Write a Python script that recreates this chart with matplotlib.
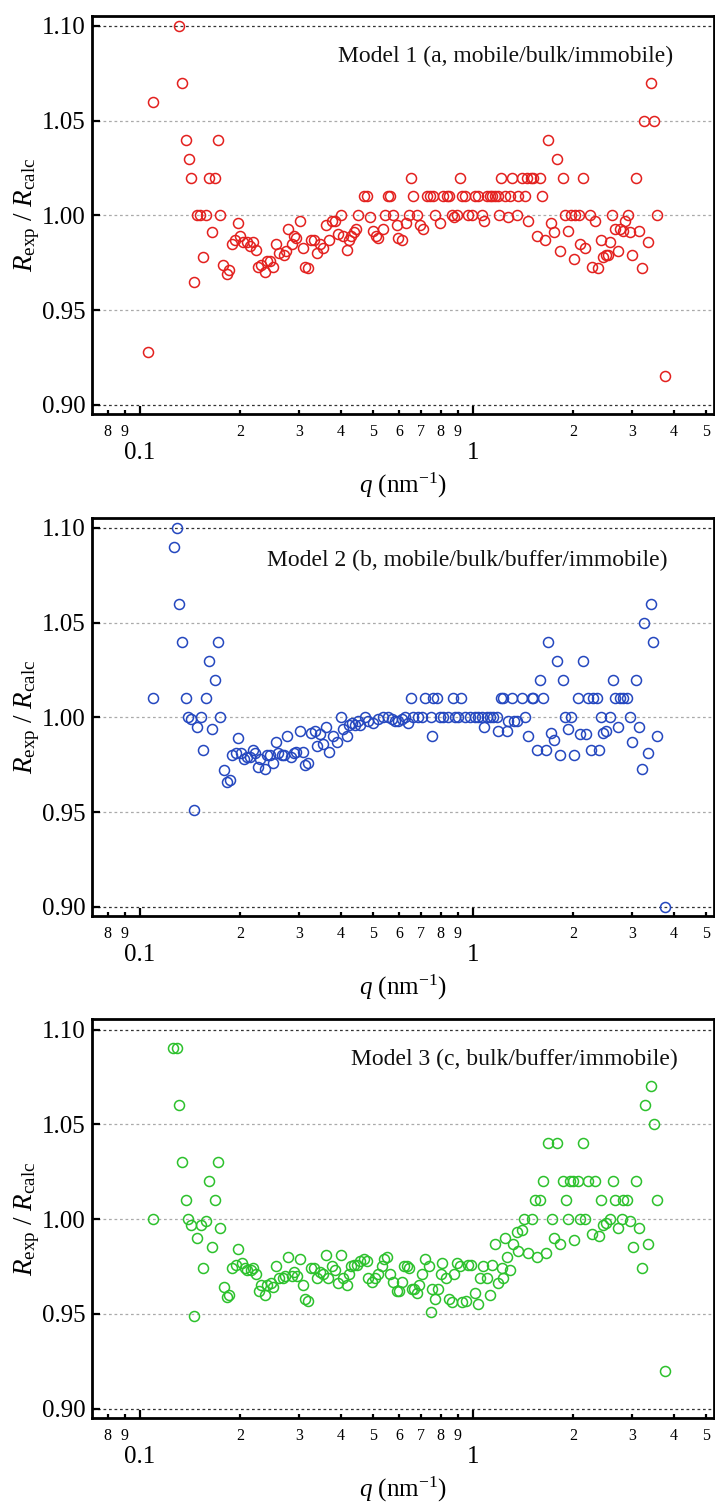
import matplotlib
matplotlib.use("Agg")
import matplotlib.pyplot as plt
from matplotlib.ticker import FixedLocator, FixedFormatter, NullLocator

plt.rcParams['font.family'] = ['Liberation Serif', 'DejaVu Serif']
plt.rcParams['mathtext.fontset'] = 'custom'
plt.rcParams['mathtext.rm'] = 'Liberation Serif'
plt.rcParams['mathtext.it'] = 'Liberation Serif:italic'

# ---------------- data ----------------
q1 = [0.1054, 0.1096, 0.1312, 0.1341, 0.1372, 0.1400, 0.1426, 0.1456, 0.148, 0.151,
      0.155, 0.158, 0.161, 0.164, 0.168, 0.171, 0.174, 0.178, 0.182, 0.185,
      0.189, 0.193, 0.197, 0.200, 0.204, 0.209, 0.214, 0.219, 0.223, 0.226,
      0.231, 0.237, 0.240, 0.246, 0.251, 0.256, 0.262, 0.270, 0.275, 0.279,
      0.285, 0.290, 0.295, 0.302, 0.308, 0.312, 0.320, 0.327, 0.333, 0.339,
      0.347, 0.354, 0.362, 0.370, 0.376, 0.385, 0.394, 0.400, 0.407, 0.417,
      0.424, 0.431, 0.438, 0.446, 0.452, 0.469, 0.480, 0.491, 0.502, 0.510,
      0.520, 0.535, 0.544, 0.557, 0.563, 0.576, 0.590, 0.597, 0.611, 0.628,
      0.640, 0.652, 0.662, 0.677, 0.693, 0.706, 0.726, 0.743, 0.760, 0.769,
      0.796, 0.814, 0.834, 0.847, 0.863, 0.879, 0.893, 0.914, 0.925, 0.946,
      0.968, 0.991, 1.014, 1.037, 1.062, 1.081, 1.099, 1.125, 1.143, 1.164,
      1.186, 1.197, 1.213, 1.248, 1.270, 1.291, 1.312, 1.352, 1.368, 1.400,
      1.432, 1.449, 1.459, 1.493, 1.517, 1.553, 1.589, 1.615, 1.645, 1.684,
      1.715, 1.755, 1.784, 1.821, 1.864, 1.889, 1.933, 1.969, 2.015, 2.025,
      2.081, 2.101, 2.144, 2.169, 2.246, 2.272, 2.325, 2.379, 2.423, 2.463,
      2.503, 2.537, 2.578, 2.620, 2.669, 2.730, 2.762, 2.827, 2.860, 2.913,
      2.961, 3.010, 3.087, 3.151, 3.210, 3.270, 3.344, 3.414, 3.494, 3.560,
      3.770]
r1 = [0.928, 1.060, 1.100, 1.070, 1.040, 1.030, 1.020, 0.965, 1.000, 1.000,
      0.978, 1.000, 1.020, 0.991, 1.020, 1.040, 1.000, 0.974, 0.969, 0.971,
      0.985, 0.987, 0.996, 0.989, 0.986, 0.986, 0.984, 0.986, 0.982, 0.973,
      0.974, 0.970, 0.976, 0.976, 0.973, 0.985, 0.980, 0.979, 0.981, 0.993,
      0.985, 0.989, 0.988, 0.997, 0.983, 0.973, 0.972, 0.987, 0.987, 0.980,
      0.985, 0.983, 0.995, 0.987, 0.997, 0.997, 0.990, 1.000, 0.989, 0.982,
      0.987, 0.989, 0.991, 0.993, 1.000, 1.010, 1.010, 0.999, 0.992, 0.989,
      0.988, 0.993, 1.000, 1.010, 1.010, 1.000, 0.995, 0.988, 0.987, 0.996,
      1.000, 1.020, 1.010, 1.000, 0.995, 0.993, 1.010, 1.010, 1.010, 1.000,
      0.996, 1.010, 1.010, 1.010, 1.000, 0.999, 1.000, 1.020, 1.010, 1.010,
      1.000, 1.000, 1.010, 1.010, 1.000, 0.997, 1.010, 1.010, 1.010, 1.010,
      1.010, 1.000, 1.020, 1.010, 0.999, 1.010, 1.020, 1.000, 1.010, 1.020,
      1.010, 1.020, 0.997, 1.020, 1.020, 0.989, 1.020, 1.010, 0.987, 1.040,
      0.996, 0.991, 1.030, 0.981, 1.020, 1.000, 0.992, 1.000, 0.977, 1.000,
      1.000, 0.985, 1.020, 0.983, 1.000, 0.973, 0.997, 0.972, 0.987, 0.978,
      0.979, 0.979, 0.986, 1.000, 0.993, 0.981, 0.993, 0.992, 0.997, 1.000,
      0.991, 0.979, 1.020, 0.992, 0.972, 1.050, 0.986, 1.070, 1.050, 1.000,
      0.915]

q2 = [0.1096, 0.1265, 0.1289, 0.1313, 0.1341, 0.1372, 0.1391, 0.1419, 0.1456, 0.1486,
      0.1524, 0.155, 0.158, 0.161, 0.164, 0.168, 0.171, 0.174, 0.179, 0.182,
      0.186, 0.189, 0.194, 0.197, 0.201, 0.205, 0.210, 0.214, 0.218, 0.222,
      0.226, 0.230, 0.237, 0.240, 0.246, 0.251, 0.256, 0.260, 0.266, 0.271,
      0.277, 0.284, 0.289, 0.295, 0.302, 0.308, 0.313, 0.320, 0.327, 0.335,
      0.339, 0.347, 0.354, 0.362, 0.370, 0.379, 0.391, 0.400, 0.406, 0.417,
      0.424, 0.434, 0.442, 0.452, 0.458, 0.474, 0.485, 0.502, 0.520, 0.538,
      0.557, 0.570, 0.583, 0.597, 0.611, 0.625, 0.637, 0.652, 0.662, 0.685,
      0.701, 0.718, 0.748, 0.751, 0.760, 0.778, 0.796, 0.814, 0.843, 0.873,
      0.883, 0.904, 0.920, 0.946, 0.979, 1.014, 1.037, 1.062, 1.081, 1.099,
      1.125, 1.151, 1.178, 1.191, 1.213, 1.233, 1.262, 1.276, 1.306, 1.330,
      1.352, 1.400, 1.432, 1.466, 1.500, 1.517, 1.553, 1.589, 1.626, 1.652,
      1.684, 1.715, 1.750, 1.784, 1.825, 1.864, 1.889, 1.933, 1.969, 2.015,
      2.061, 2.096, 2.144, 2.178, 2.220, 2.259, 2.296, 2.350, 2.388, 2.423,
      2.463, 2.503, 2.578, 2.626, 2.669, 2.730, 2.762, 2.827, 2.891, 2.961,
      3.010, 3.087, 3.151, 3.210, 3.270, 3.344, 3.414, 3.475, 3.560, 3.770]
r2 = [1.010, 1.090, 1.100, 1.060, 1.040, 1.010, 1.000, 0.999, 0.951, 0.995,
      1.000, 0.983, 1.010, 1.030, 0.994, 1.020, 1.040, 1.000, 0.972, 0.966,
      0.967, 0.980, 0.981, 0.989, 0.981, 0.978, 0.979, 0.979, 0.983, 0.981,
      0.974, 0.978, 0.973, 0.980, 0.980, 0.976, 0.987, 0.981, 0.980, 0.980,
      0.990, 0.979, 0.981, 0.982, 0.993, 0.982, 0.975, 0.976, 0.992, 0.993,
      0.985, 0.991, 0.986, 0.995, 0.982, 0.990, 0.987, 1.000, 0.994, 0.990,
      0.996, 0.997, 0.996, 0.998, 0.996, 1.000, 0.998, 0.997, 0.999, 1.000,
      1.000, 0.999, 0.998, 0.998, 0.999, 1.000, 0.997, 1.010, 1.000, 1.000,
      1.000, 1.010, 1.000, 0.990, 1.010, 1.010, 1.000, 1.000, 1.000, 1.010,
      1.000, 1.000, 1.010, 1.000, 1.000, 1.000, 1.000, 1.000, 0.995, 1.000,
      1.000, 1.000, 1.000, 0.993, 1.010, 1.010, 0.993, 0.998, 1.010, 0.998,
      0.998, 1.010, 1.000, 0.990, 1.010, 1.010, 0.983, 1.020, 1.010, 0.983,
      1.040, 0.992, 0.988, 1.030, 0.980, 1.020, 1.000, 0.994, 1.000, 0.980,
      1.010, 0.991, 1.030, 0.991, 1.010, 0.983, 1.010, 1.010, 0.983, 1.000,
      0.992, 0.993, 1.000, 1.020, 1.010, 0.995, 1.010, 1.010, 1.010, 1.000,
      0.987, 1.020, 0.995, 0.973, 1.050, 0.981, 1.060, 1.040, 0.990, 0.900]

q3 = [0.1096, 0.1254, 0.1289, 0.1313, 0.1341, 0.1372, 0.1397, 0.1423, 0.1456, 0.1486,
      0.152, 0.155, 0.158, 0.161, 0.164, 0.168, 0.171, 0.174, 0.179, 0.183,
      0.185, 0.189, 0.194, 0.197, 0.202, 0.206, 0.210, 0.215, 0.219, 0.223,
      0.227, 0.231, 0.237, 0.240, 0.247, 0.251, 0.256, 0.262, 0.268, 0.273,
      0.278, 0.286, 0.290, 0.297, 0.302, 0.308, 0.313, 0.320, 0.326, 0.333,
      0.339, 0.347, 0.354, 0.362, 0.368, 0.377, 0.384, 0.392, 0.400, 0.407,
      0.417, 0.424, 0.431, 0.440, 0.449, 0.458, 0.469, 0.480, 0.485, 0.496,
      0.508, 0.520, 0.532, 0.542, 0.551, 0.563, 0.576, 0.590, 0.601, 0.611,
      0.622, 0.632, 0.643, 0.655, 0.667, 0.677, 0.690, 0.701, 0.718, 0.735,
      0.748, 0.755, 0.766, 0.783, 0.802, 0.809, 0.828, 0.847, 0.863, 0.879,
      0.895, 0.914, 0.929, 0.951, 0.968, 0.986, 1.014, 1.033, 1.052, 1.074,
      1.099, 1.125, 1.143, 1.164, 1.191, 1.219, 1.233, 1.248, 1.262, 1.291,
      1.321, 1.352, 1.368, 1.400, 1.426, 1.466, 1.507, 1.535, 1.553, 1.589,
      1.618, 1.652, 1.684, 1.722, 1.750, 1.784, 1.825, 1.864, 1.897, 1.933,
      1.955, 2.000, 2.015, 2.061, 2.096, 2.144, 2.169, 2.220, 2.272, 2.325,
      2.388, 2.423, 2.463, 2.503, 2.578, 2.626, 2.669, 2.730, 2.793, 2.827,
      2.891, 2.961, 3.014, 3.087, 3.151, 3.210, 3.282, 3.344, 3.414, 3.494,
      3.560, 3.770]
r3 = [1.000, 1.090, 1.090, 1.060, 1.030, 1.010, 1.000, 0.997, 0.949, 0.990,
      0.997, 0.974, 0.999, 1.020, 0.985, 1.010, 1.030, 0.995, 0.964, 0.959,
      0.960, 0.974, 0.976, 0.984, 0.977, 0.974, 0.973, 0.973, 0.974, 0.971,
      0.962, 0.965, 0.960, 0.965, 0.966, 0.964, 0.975, 0.969, 0.969, 0.970,
      0.980, 0.970, 0.972, 0.970, 0.979, 0.965, 0.958, 0.957, 0.974, 0.974,
      0.969, 0.972, 0.971, 0.981, 0.969, 0.975, 0.973, 0.966, 0.981, 0.969,
      0.965, 0.971, 0.975, 0.976, 0.976, 0.978, 0.979, 0.978, 0.969, 0.967,
      0.969, 0.971, 0.975, 0.979, 0.980, 0.971, 0.967, 0.962, 0.962, 0.967,
      0.975, 0.975, 0.974, 0.963, 0.963, 0.961, 0.965, 0.971, 0.979, 0.975,
      0.951, 0.963, 0.958, 0.963, 0.971, 0.977, 0.969, 0.958, 0.956, 0.971,
      0.977, 0.975, 0.956, 0.957, 0.976, 0.976, 0.961, 0.955, 0.969, 0.975,
      0.969, 0.960, 0.976, 0.987, 0.966, 0.974, 0.969, 0.990, 0.980, 0.973,
      0.987, 0.993, 0.983, 0.994, 1.000, 0.982, 1.000, 1.010, 0.980, 1.010,
      1.020, 0.982, 1.040, 1.000, 0.990, 1.040, 0.987, 1.020, 1.010, 1.000,
      1.020, 1.020, 0.989, 1.020, 1.000, 1.040, 1.000, 1.020, 0.992, 1.020,
      0.991, 1.010, 0.997, 0.998, 1.000, 1.020, 1.010, 0.995, 1.000, 1.010,
      1.010, 0.999, 0.985, 1.020, 0.995, 0.974, 1.060, 0.987, 1.070, 1.050,
      1.010, 0.920]

labels = ["Model 1 (a, mobile/bulk/immobile)",
          "Model 2 (b, mobile/bulk/buffer/immobile)",
          "Model 3 (c, bulk/buffer/immobile)"]
colors = ["#e3201e", "#2447bf", "#2cc12c"]

yticks = [0.90, 0.95, 1.00, 1.05, 1.10]
ytick_labels = ["0.90", "0.95", "1.00", "1.05", "1.10"]
x_major = [0.1, 1.0]
x_major_labels = ["0.1", "1"]
x_minor = [0.08, 0.09, 0.2, 0.3, 0.4, 0.5, 0.6, 0.7, 0.8, 0.9, 2, 3, 4, 5]
x_minor_labels = ["8", "9", "2", "3", "4", "5", "6", "7", "8", "9", "2", "3", "4", "5"]

# ---------------- figure ----------------
W, H = 715, 1502
fig = plt.figure(figsize=(W / 100, H / 100), dpi=100)

left = 91.7 / W
width = (714.0 - 91.7) / W
tops = [15.7, 517.7, 1019.3]
ax_h = 398.5

series = [(q1, r1), (q2, r2), (q3, r3)]
text_x = [0.934, 0.926, 0.942]
text_y = [0.897, 0.893, 0.900]

for i, (q, r) in enumerate(series):
    bottom = 1 - (tops[i] + ax_h) / H
    ax = fig.add_axes([left, bottom, width, ax_h / H])
    ax.set_xscale('log')
    ax.set_xlim(0.0716, 5.29)
    ax.set_ylim(0.8951, 1.1054)

    for yv in yticks:
        if yv in (0.90, 1.10):
            ax.axhline(yv, color='#333333', lw=0.9, ls=(0, (2.2, 2.2)), zorder=1)
        else:
            ax.axhline(yv, color='#aaaaaa', lw=0.9, ls=(0, (2.2, 2.2)), zorder=1)

    ax.plot(q, r, ls='none', marker='o', ms=7.2, mfc='none', mec=colors[i],
            mew=1.1, zorder=3)

    ax.xaxis.set_major_locator(FixedLocator(x_major))
    ax.xaxis.set_major_formatter(FixedFormatter(x_major_labels))
    ax.xaxis.set_minor_locator(FixedLocator(x_minor))
    ax.xaxis.set_minor_formatter(FixedFormatter(x_minor_labels))
    ax.yaxis.set_major_locator(FixedLocator(yticks))
    ax.yaxis.set_major_formatter(FixedFormatter(ytick_labels))
    ax.yaxis.set_minor_locator(NullLocator())

    ax.tick_params(axis='x', which='major', direction='in', length=6, width=1.6,
                   labelsize=18, pad=20, top=False)
    ax.tick_params(axis='x', which='minor', direction='in', length=3.2, width=1.6,
                   labelsize=11.5, pad=7, top=False)
    ax.tick_params(axis='y', which='major', direction='in', length=6, width=1.6,
                   labelsize=18, pad=4.5, right=False)

    for sp in ax.spines.values():
        sp.set_linewidth(2.0)

    ax.set_ylabel(r"$R_{\mathrm{exp}}$ / $R_{\mathrm{calc}}$", fontsize=19.5)
    ax.yaxis.set_label_coords(-0.080, 0.5)
    ax.set_xlabel(r"$q$ (nm$^{-1}$)", fontsize=18)
    ax.xaxis.set_label_coords(0.5, -0.143)

    ax.text(text_x[i], text_y[i], labels[i], transform=ax.transAxes,
            ha='right', va='center', fontsize=17, color='#111111')

fig.savefig("out.png", dpi=100)
